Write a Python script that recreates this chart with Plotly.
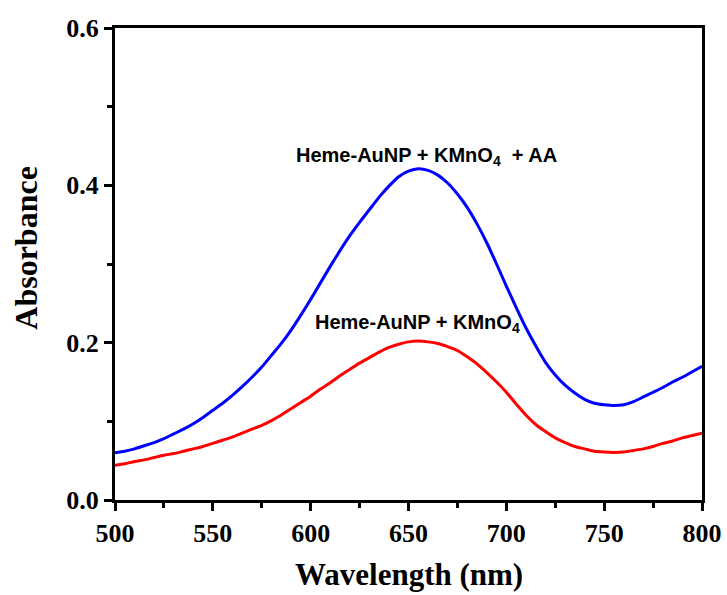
import plotly.graph_objects as go

wavelength = list(range(500, 805, 5))
abs_aa = [0.060, 0.062, 0.065, 0.069, 0.073, 0.078, 0.084, 0.090, 0.097, 0.105,
          0.114, 0.123, 0.133, 0.144, 0.156, 0.169, 0.184, 0.199, 0.216, 0.235,
          0.255, 0.276, 0.297, 0.317, 0.336, 0.353, 0.369, 0.385, 0.399, 0.411,
          0.418, 0.421, 0.419, 0.413, 0.403, 0.389, 0.372, 0.351, 0.327, 0.300,
          0.272, 0.245, 0.219, 0.196, 0.175, 0.159, 0.146, 0.136, 0.128, 0.123,
          0.121, 0.120, 0.121, 0.125, 0.131, 0.137, 0.143, 0.150, 0.156, 0.163,
          0.170]
abs_kmno4 = [0.044, 0.046, 0.049, 0.051, 0.054, 0.057, 0.059, 0.062, 0.065, 0.068,
             0.072, 0.076, 0.080, 0.085, 0.090, 0.095, 0.101, 0.108, 0.116, 0.124,
             0.132, 0.141, 0.149, 0.158, 0.166, 0.174, 0.181, 0.188, 0.194, 0.198,
             0.201, 0.202, 0.201, 0.199, 0.195, 0.190, 0.182, 0.173, 0.162, 0.150,
             0.137, 0.122, 0.108, 0.096, 0.087, 0.079, 0.073, 0.068, 0.065, 0.062,
             0.061, 0.0605, 0.061, 0.063, 0.065, 0.068, 0.072, 0.075, 0.079, 0.082,
             0.085]

label_aa = "<b>Heme-AuNP + KMnO<sub>4</sub>  + AA</b>"
label_k = "<b>Heme-AuNP + KMnO<sub>4</sub></b>"
x_title = "<b>Wavelength (nm)</b>"
y_title = "<b>Absorbance</b>"

fig = go.Figure()
fig.add_trace(go.Scatter(x=wavelength, y=abs_aa, mode="lines",
                         line=dict(color="#0000FF", width=3, shape="spline", smoothing=0.6),
                         showlegend=False))
fig.add_trace(go.Scatter(x=wavelength, y=abs_kmno4, mode="lines",
                         line=dict(color="#FF0000", width=3, shape="spline", smoothing=0.6),
                         showlegend=False))

ann_font = dict(family="Liberation Sans", size=20, color="black")
fig.add_annotation(x=659, y=0.437, text=label_aa, showarrow=False,
                   font=ann_font, xanchor="center", yanchor="middle")
fig.add_annotation(x=654.5, y=0.224, text=label_k, showarrow=False,
                   font=ann_font, xanchor="center", yanchor="middle")

# axis titles placed as annotations so they sit exactly where the reference has them
fig.add_annotation(xref="paper", yref="paper", x=-0.152, y=0.534,
                   text=y_title, textangle=-90, showarrow=False,
                   font=dict(family="Liberation Serif", size=32, color="black"),
                   xanchor="center", yanchor="middle")
fig.add_annotation(xref="paper", yref="paper", x=0.5, y=-0.157,
                   text=x_title, showarrow=False,
                   font=dict(family="Liberation Serif", size=31, color="black"),
                   xanchor="center", yanchor="middle")

tick_font = dict(family="Liberation Serif", size=26, color="black")
common = dict(showline=True, linecolor="black", linewidth=3, mirror=True,
              ticks="outside", ticklen=8, tickwidth=3, tickcolor="black",
              showgrid=False, zeroline=False, tickfont=tick_font, automargin=False,
              tickprefix="<b>", ticksuffix="</b>")
fig.update_xaxes(range=[500, 800], dtick=50, tick0=500, ticklabeloverflow="allow",
                 minor=dict(ticks="outside", ticklen=5, tickwidth=3, dtick=25, tickcolor="black"),
                 **common)
fig.update_yaxes(range=[0, 0.6], dtick=0.2, tick0=0, tickformat=".1f",
                 minor=dict(ticks="outside", ticklen=5, tickwidth=3, dtick=0.1, tickcolor="black"),
                 **common)

fig.update_layout(width=727, height=595,
                  margin=dict(l=115, r=25, t=28, b=95),
                  plot_bgcolor="white", paper_bgcolor="white",
                  font=dict(family="Liberation Serif", color="black"))

# remove the default 8px page margin so the 727x595 figure fills the window exactly
fig.write_html("out.html", config={"displayModeBar": False},
               post_script="document.body.style.margin='0';")
